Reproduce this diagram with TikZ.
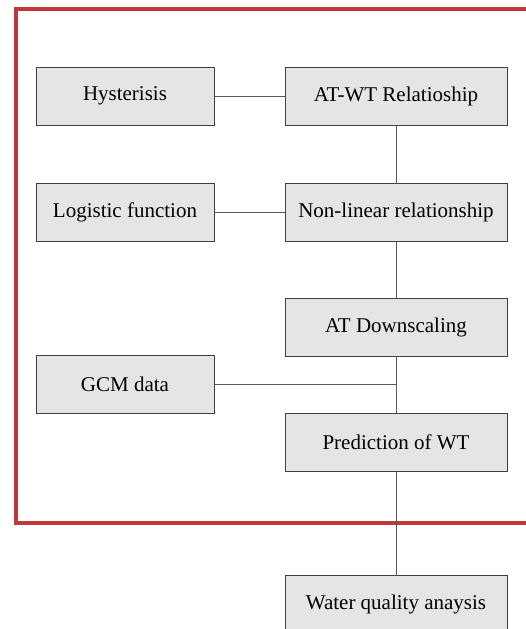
\documentclass[tikz,border=0pt]{standalone}
\usepackage{fontspec}
\setmainfont{Liberation Serif}

\newcommand*{\picw}{525pt}
\newcommand*{\pich}{629pt}
\newcommand*{\lcol}{125pt}
\newcommand*{\rcol}{396pt}

\begin{document}
\begin{tikzpicture}
[
	stepbox/.style={draw=black!75,fill=black!10,line width=1pt,inner sep=0pt,font=\fontsize{21}{25}\selectfont},
	leftbox/.style={stepbox,minimum width=178pt,minimum height=58pt},
	rightbox/.style={stepbox,minimum width=222pt,minimum height=58pt},
	link/.style={draw=black!65,line width=1pt},
	frame/.style={draw={rgb,255:red,192;green,57;blue,60},line width=4pt}
]

	\useasboundingbox (0,0) rectangle (\picw,-\pich);

	% frame
	\draw[frame] (540pt,-8.5pt) -- (15.5pt,-8.5pt) -- (15.5pt,-522.5pt) -- (540pt,-522.5pt);

	% boxes
	\node[leftbox] at (\lcol,-96pt) (hyst) {Hysterisis};
	\node[rightbox] at (\rcol,-96pt) (atwt) {AT-WT Relatioship};
	\node[leftbox] at (\lcol,-212pt) (logit) {Logistic function};
	\node[rightbox] at (\rcol,-212pt) (nonlin) {Non-linear relationship};
	\node[rightbox] at (\rcol,-327pt) (atds) {AT Downscaling};
	\node[leftbox] at (\lcol,-384.5pt) (gcm) {GCM data};
	\node[rightbox] at (\rcol,-442.5pt) (pred) {Prediction of WT};
	\node[rightbox] at (\rcol,-604pt) (wqa) {Water quality anaysis};

	% links
	\draw[link] (hyst) -- (atwt);
	\draw[link] (logit) -- (nonlin);
	\draw[link] (atwt) -- (nonlin);
	\draw[link] (nonlin) -- (atds);
	\draw[link] (atds) -- (pred);
	\coordinate (join) at (gcm.east -| atds.south);
	\draw[link] (gcm) -- (join);
	\draw[link] (pred) -- (wqa);

\end{tikzpicture}
\end{document}
